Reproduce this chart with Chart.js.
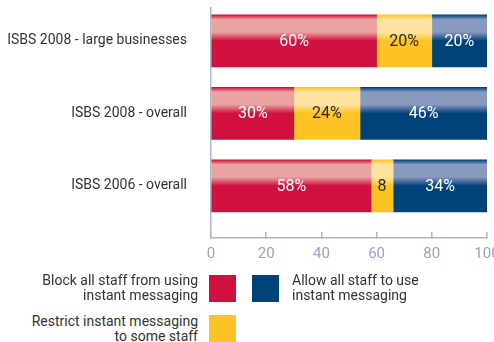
<!DOCTYPE html>
<html lang="en">
<head>
  <meta charset="UTF-8">
  <title>Instant messaging policy</title>
  <script src="https://cdn.jsdelivr.net/npm/chart.js"></script>
  <style>
    html, body {
      margin: 0;
      padding: 0;
      background: #fff;
      overflow: hidden;
      width: 494px;
      height: 342px;
    }
    body {
      position: relative;
      font-family: Roboto, sans-serif;
      color: #333;
    }
    .wrap {
      position: absolute;
      left: 0;
      top: 0;
      width: 517px;
      height: 276px;
    }
    .leg {
      position: absolute;
      font-size: 14px;
      line-height: 15px;
    }
    .leg.r { text-align: right; }
    .sw {
      position: absolute;
      width: 27px;
      height: 27px;
    }
  </style>
</head>
<body>
  <div class="wrap"><canvas id="imChart"></canvas></div>

  <div class="leg r" style="right:296px; top:273px;">Block all staff from using<br>instant messaging</div>
  <div class="sw" style="left:209px; top:275px; background:#d0103e;"></div>
  <div class="sw" style="left:252px; top:275px; background:#00427a;"></div>
  <div class="leg" style="left:292px; top:273px;">Allow all staff to use<br>instant messaging</div>
  <div class="leg r" style="right:296px; top:314px;">Restrict instant messaging<br>to some staff</div>
  <div class="sw" style="left:209px; top:315px; background:#fdc325;"></div>

  <script>
    const categories = ['ISBS 2008 - large businesses', 'ISBS 2008 - overall', 'ISBS 2006 - overall'];
    const blockAll = [60, 30, 58];
    const restrictSome = [20, 24, 8];
    const allowAll = [20, 46, 34];
    const xTicks = [0, 20, 40, 60, 80, 100];

    const BAR_H = 52;
    const FONT = 'Roboto, sans-serif';

    // vertical sheen on each bar: thin dark edge, light band in upper third, dark lower half
    function barFill(dark, light) {
      return function (c) {
        const chart = c.chart;
        const y = chart.scales && chart.scales.y;
        if (!y || !chart.chartArea || c.raw === undefined) return dark;
        const mid = y.getPixelForValue(c.raw.y);
        if (!isFinite(mid)) return dark;
        const g = chart.ctx.createLinearGradient(0, mid - BAR_H / 2, 0, mid + BAR_H / 2);
        g.addColorStop(0, dark);
        g.addColorStop(0.09, light);
        g.addColorStop(0.33, light);
        g.addColorStop(0.5, dark);
        g.addColorStop(1, dark);
        return g;
      };
    }

    function toPoints(vals) {
      return vals.map((v, i) => ({ x: v, y: i }));
    }

    const valueLabels = {
      id: 'valueLabels',
      afterDatasetsDraw(chart) {
        const ctx = chart.ctx;
        ctx.save();
        ctx.font = '16px ' + FONT;
        ctx.textAlign = 'center';
        ctx.textBaseline = 'middle';
        chart.data.datasets.forEach((ds, di) => {
          chart.getDatasetMeta(di).data.forEach((el, i) => {
            const v = ds.data[i].x;
            ctx.fillStyle = ds.labelColor;
            ctx.fillText(v < 10 ? String(v) : v + '%', (el.x + el.base) / 2, el.y + 1);
          });
        });
        ctx.restore();
      }
    };

    new Chart(document.getElementById('imChart').getContext('2d'), {
      type: 'bar',
      data: {
        datasets: [
          { label: 'Block all staff from using instant messaging', data: toPoints(blockAll),
            backgroundColor: barFill('#d0103e', '#e9a3a0'), labelColor: '#fff' },
          { label: 'Restrict instant messaging to some staff', data: toPoints(restrictSome),
            backgroundColor: barFill('#fdc325', '#fee3a0'), labelColor: '#2a2a2a' },
          { label: 'Allow all staff to use instant messaging', data: toPoints(allowAll),
            backgroundColor: barFill('#00427a', '#8a99bf'), labelColor: '#fff' }
        ]
      },
      options: {
        indexAxis: 'y',
        responsive: true,
        maintainAspectRatio: false,
        animation: false,
        layout: { padding: { top: 8, right: 30, left: 0, bottom: 0 } },
        datasets: { bar: { barThickness: BAR_H, borderWidth: 0 } },
        plugins: { legend: { display: false }, tooltip: { enabled: false } },
        scales: {
          x: {
            stacked: true,
            min: 0,
            max: 100,
            afterBuildTicks: s => { s.ticks = xTicks.map(v => ({ value: v })); },
            grid: { drawOnChartArea: false, drawTicks: true, tickLength: -6, color: '#abb4d0', lineWidth: 1.5 },
            border: { color: '#abb4d0', width: 1.5 },
            ticks: {
              padding: 13,
              color: '#98a4c6',
              font: { family: FONT, size: 15 }
            }
          },
          y: {
            type: 'linear',
            stacked: true,
            reverse: true,
            offset: false,
            min: -0.454,
            max: 2.72,
            afterBuildTicks: s => { s.ticks = categories.map((_, i) => ({ value: i })); },
            afterFit: s => { s.width = 211; s.paddingTop = 0; s.paddingBottom = 0; },
            grid: { display: false, offset: false },
            border: { color: '#abb4d0', width: 1.5 },
            ticks: {
              padding: 16,
              color: '#333',
              crossAlign: 'near',
              callback: v => categories[v] || '',
              font: { family: FONT, size: 14 }
            }
          }
        }
      },
      plugins: [valueLabels]
    });
  </script>
</body>
</html>
